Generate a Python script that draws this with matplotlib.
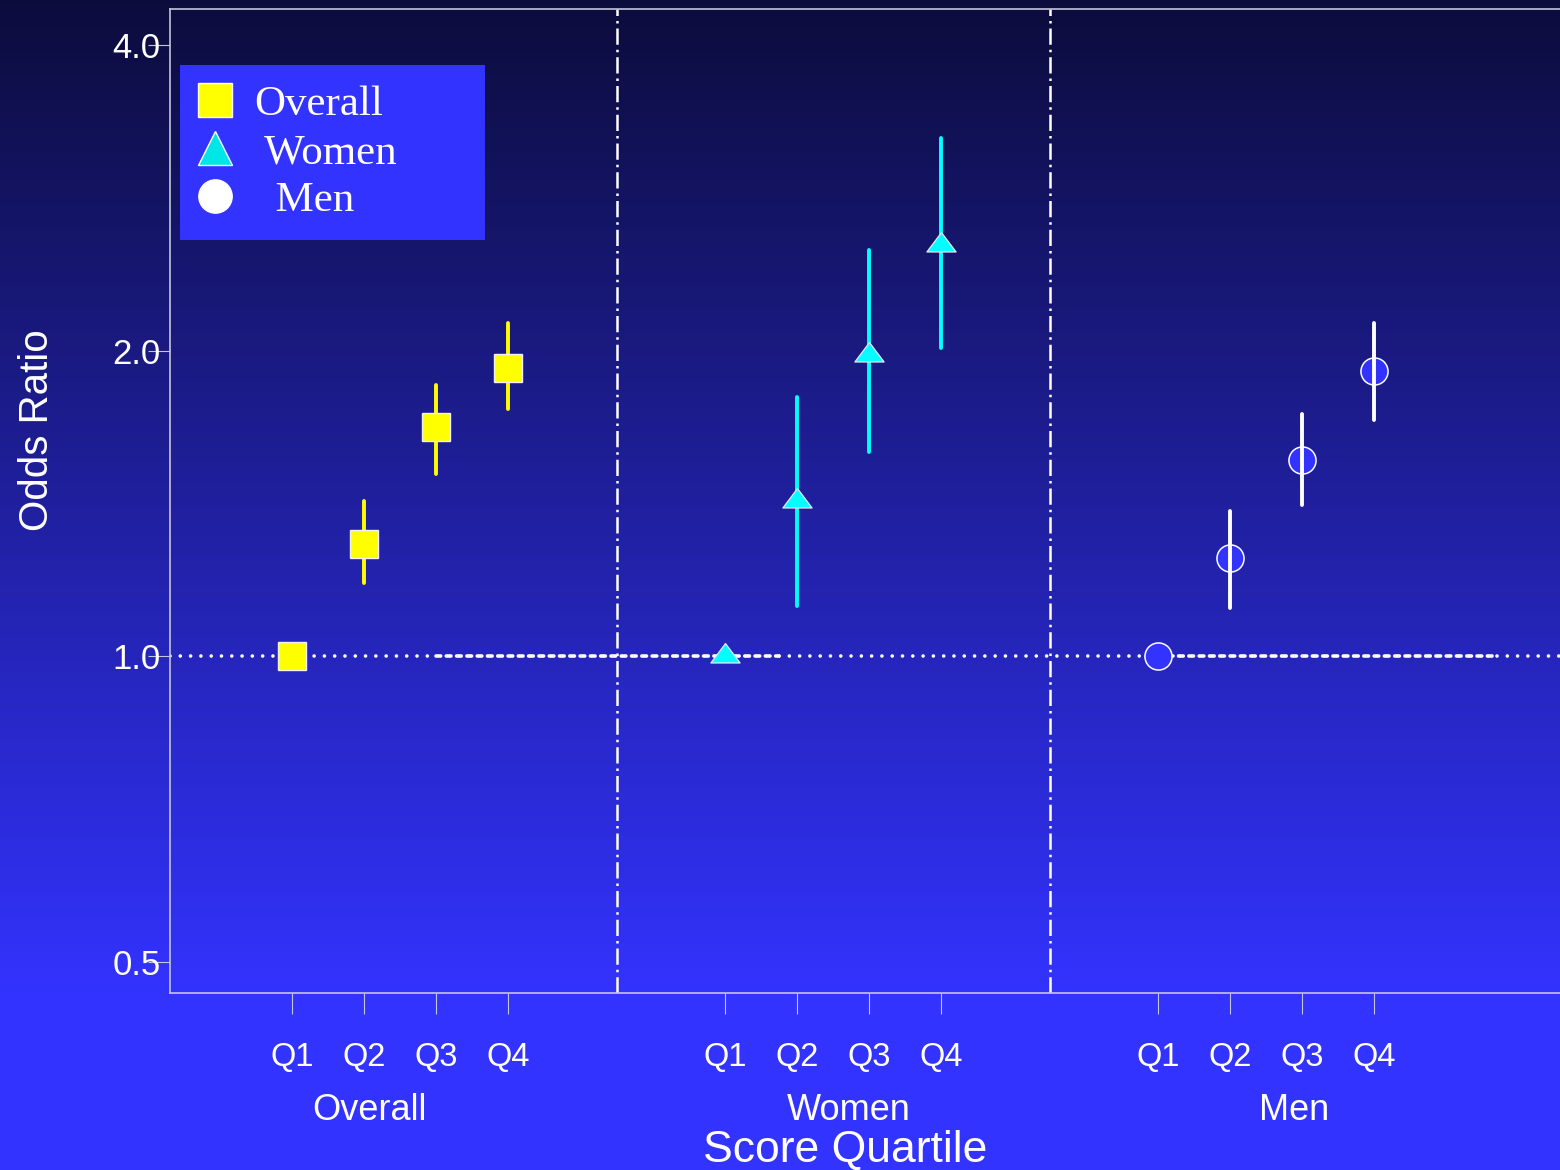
import numpy as np
import matplotlib
matplotlib.use("Agg")
import matplotlib.pyplot as plt
from matplotlib.lines import Line2D
from matplotlib.patches import Rectangle
from matplotlib.path import Path
from matplotlib.ticker import FixedLocator, NullLocator, FixedFormatter
import matplotlib.transforms as mtransforms

# ---- data -------------------------------------------------------------
quartiles = ["Q1", "Q2", "Q3", "Q4"]
groups = ["Overall", "Women", "Men"]

overall_or = [1.00, 1.29, 1.68, 1.92]
overall_lo = [1.00, 1.18, 1.51, 1.75]
overall_hi = [1.00, 1.42, 1.85, 2.13]

women_or = [1.00, 1.42, 1.98, 2.54]
women_lo = [1.00, 1.12, 1.59, 2.01]
women_hi = [1.00, 1.80, 2.51, 3.24]

men_or = [1.00, 1.25, 1.56, 1.91]
men_lo = [1.00, 1.115, 1.41, 1.71]
men_hi = [1.00, 1.39, 1.73, 2.13]

y_ticks = [0.5, 1.0, 2.0, 4.0]
y_tick_labels = ["0.5", "1.0", "2.0", "4.0"]

# ---- layout / style ---------------------------------------------------
W, H = 1560, 1170
SANS = ["Liberation Sans", "DejaVu Sans"]
SERIF = ["Liberation Serif", "DejaVu Serif"]
plt.rcParams["font.family"] = SANS

group_gap = 6  # x-distance between the first quartile of consecutive groups
pos = [np.arange(1, 5) + g * group_gap for g in range(len(groups))]
group_label_nudge = [-0.42, 0.21, 0.38]

fig = plt.figure(figsize=(W / 100, H / 100), dpi=100)

# vertical background gradient (dark navy at top to bright blue)
bg = fig.add_axes([0, 0, 1, 1], zorder=-10)
rows = np.arange(H)
t = np.clip(rows / 993.0, 0, 1)[:, None]
top = np.array([12, 12, 60]) / 255
bot = np.array([51, 51, 255]) / 255
grad = (top * (1 - t) + bot * t)[:, None, :]
bg.imshow(grad, aspect="auto", extent=[0, 1, 0, 1], origin="upper")
bg.set_axis_off()

ax = fig.add_axes([170 / W, 1 - 993 / H, 1421 / W, 984 / H])
ax.patch.set_alpha(0)
ax.set_yscale("log")
ax.set_xlim(-0.69, 19.0)
ax.set_ylim(0.4656, 4.34)

spine_col = "#c4c4dc"
for side in ["top", "left", "bottom"]:
    ax.spines[side].set_color(spine_col)
    ax.spines[side].set_linewidth(1.2)
ax.spines["right"].set_visible(False)

# reference line at OR = 1 (dotted with dashed stretches)
xmin, xmax = ax.get_xlim()
ref_dash_spans = [(pos[0][2], pos[1][1] - 0.25), (pos[2][0], pos[2][3] + 1.7)]
breaks = [xmin]
for a, b in ref_dash_spans:
    breaks += [a, b]
breaks.append(xmax)
for i in range(len(breaks) - 1):
    dashed = i % 2 == 1
    ln, = ax.plot([breaks[i], breaks[i + 1]], [1, 1], color="white", lw=2.6,
                  solid_capstyle="round", zorder=2)
    ln.set_dash_capstyle("round")
    ln.set_dashes((1.3, 1.55) if dashed else (0.01, 2.84))

# group separators
for g in range(len(groups) - 1):
    xs = (pos[g][-1] + pos[g + 1][0]) / 2
    ax.axvline(xs, color="white", lw=1.8, dashes=(6.5, 2.0, 1.0, 2.0), zorder=2)

tri_path = Path([(0, 0.889), (-1, -0.444), (1, -0.444), (0, 0.889)],
                [Path.MOVETO, Path.LINETO, Path.LINETO, Path.CLOSEPOLY])

# Overall: yellow squares
ax.vlines(pos[0], overall_lo, overall_hi, colors="#ffff00", lw=2.8,
          capstyle="round", zorder=3)
ax.plot(pos[0], overall_or, ls="none", marker="s", ms=20, mfc="#ffff00",
        mec="#f0f0ff", mew=1.0, zorder=4)

# Women: cyan triangles
ax.vlines(pos[1], women_lo, women_hi, colors="#00ffff", lw=2.8,
          capstyle="round", zorder=3)
ax.plot(pos[1], women_or, ls="none", marker=tri_path, ms=21, mfc="#00ffff",
        mec="#e8e8ff", mew=0.9, zorder=4)

# Men: open circles with white intervals on top
ax.plot(pos[2], men_or, ls="none", marker="o", ms=19.5, mfc="#3333ff",
        mec="white", mew=1.1, zorder=3)
ax.vlines(pos[2], men_lo, men_hi, colors="white", lw=2.8,
          capstyle="round", zorder=4)

# axes ticks
all_pos = np.concatenate(pos)
ax.xaxis.set_major_locator(FixedLocator(all_pos))
ax.xaxis.set_major_formatter(FixedFormatter(quartiles * len(groups)))
ax.xaxis.set_minor_locator(NullLocator())
ax.tick_params(axis="x", direction="out", length=15, width=0.8, color=spine_col,
               pad=20, labelsize=23.5, labelcolor="white")
ax.yaxis.set_major_locator(FixedLocator(y_ticks))
ax.yaxis.set_major_formatter(FixedFormatter(y_tick_labels))
ax.yaxis.set_minor_locator(NullLocator())
ax.tick_params(axis="y", direction="out", length=16, width=0.8, color=spine_col,
               pad=-9.4, labelsize=25, labelcolor="white")

# group names under the quartile labels
trans = mtransforms.blended_transform_factory(ax.transData, ax.transAxes)
for g, name in enumerate(groups):
    ax.text(np.mean(pos[g]) + group_label_nudge[g], -0.119, name, transform=trans,
            ha="center", va="center", fontsize=26, color="white")

fig.text(845 / W, 1 - 1162 / H, "Score Quartile", ha="center", va="baseline",
         fontsize=32, color="white")
fig.text(37 / W, 1 - 430 / H, "Odds Ratio", ha="center", va="center",
         rotation=90, fontsize=29, color="white")

# legend panel
fig.add_artist(Rectangle((180 / W, 1 - 240 / H), 305 / W, 175 / H,
                         transform=fig.transFigure, fc="#3333ff", ec="none",
                         zorder=3))
handles = [
    Line2D([], [], ls="none", marker="s", ms=24, mfc="#ffff00", mec="white", mew=1),
    Line2D([], [], ls="none", marker="^", ms=24, mfc="#00e6e6", mec="white", mew=1),
    Line2D([], [], ls="none", marker="o", ms=24, mfc="white", mec="white", mew=1),
]
leg = fig.legend(handles, ["Overall", " Women", "  Men"], loc="upper left",
                 bbox_to_anchor=(168 / W, 1 - 55 / H), frameon=False,
                 prop={"family": SERIF, "size": 31}, labelcolor="white",
                 handlelength=0.8, handletextpad=0.5, labelspacing=0.2,
                 borderpad=0.2)
leg.set_zorder(4)

fig.savefig("out.png", dpi=100)
